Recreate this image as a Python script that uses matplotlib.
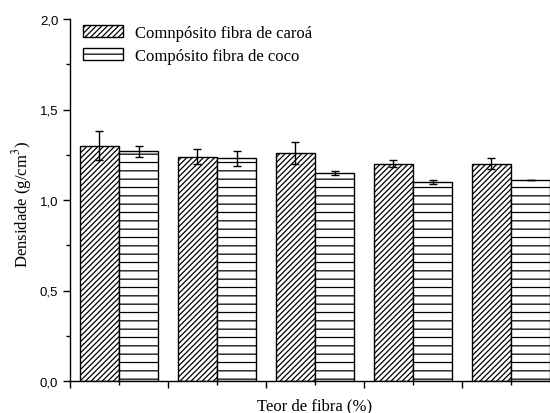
import matplotlib
matplotlib.use("Agg")
import matplotlib.pyplot as plt
import numpy as np

groups = [1, 2, 3, 4, 5]
caroa = [1.30, 1.24, 1.26, 1.20, 1.20]
caroa_err = [0.08, 0.04, 0.06, 0.02, 0.03]
coco = [1.27, 1.23, 1.15, 1.10, 1.11]
coco_err = [0.03, 0.04, 0.01, 0.01, 0.0]
labels = ["Comnpósito fibra de caroá", "Compósito fibra de coco"]
yticks = [0.0, 0.5, 1.0, 1.5, 2.0]
ytick_labels = ["0,0", "0,5", "1,0", "1,5", "2,0"]

plt.rcParams['hatch.linewidth'] = 0.9
plt.rcParams['mathtext.fontset'] = 'stix'
fig = plt.figure(figsize=(5.5, 4.14), dpi=100)
ax = fig.add_axes([70/550, 1-382/414, 490/550, 362/414])

x = np.array(groups, dtype=float)
w = 0.4
ax.bar(x - w/2, caroa, w, color='white', edgecolor='black', hatch='//////',
       linewidth=1.0, label=labels[0])
ax.bar(x + w/2, coco, w, color='white', edgecolor='black', hatch='--',
       linewidth=1.0, label=labels[1])
ax.errorbar(x - w/2, caroa, yerr=caroa_err, fmt='none', ecolor='black',
            elinewidth=1.0, capsize=3, capthick=1.0)
ax.errorbar(x + w/2, coco, yerr=coco_err, fmt='none', ecolor='black',
            elinewidth=1.0, capsize=3, capthick=1.0)

ax.set_xlim(0.5, 5.5)
ax.set_ylim(0, 2.0)
ax.set_xticks([0.5, 1.5, 2.5, 3.5, 4.5, 5.5])
ax.set_xticks([1, 2, 3, 4, 5], minor=True)
ax.set_xticklabels([])
ax.set_yticks(yticks)
ax.set_yticks([0.25, 0.75, 1.25, 1.75], minor=True)
ax.set_yticklabels(ytick_labels, fontfamily='Liberation Sans', fontsize=9.5)
ax.tick_params(axis='both', which='major', direction='out', length=5, width=1)
ax.tick_params(axis='both', which='minor', direction='out', length=3, width=1)
for s in ['top', 'right']:
    ax.spines[s].set_visible(False)
for s in ['left', 'bottom']:
    ax.spines[s].set_linewidth(1.0)

ax.set_ylabel("Densidade (g/cm$^3$)", fontfamily='Liberation Serif', fontsize=12)
ax.yaxis.set_label_coords(-0.073, 0.49)
ax.set_xlabel("Teor de fibra (%)", fontfamily='Liberation Serif', fontsize=12)
ax.xaxis.set_label_coords(0.5, -0.045)

ax.legend(loc='upper left', bbox_to_anchor=(13/490, 1-6/362), frameon=False,
          prop={'family': 'Liberation Serif', 'size': 12},
          handlelength=2.4, handleheight=0.72, handletextpad=0.72,
          borderpad=0, borderaxespad=0, labelspacing=0.42)

fig.savefig("out.png", dpi=100)
